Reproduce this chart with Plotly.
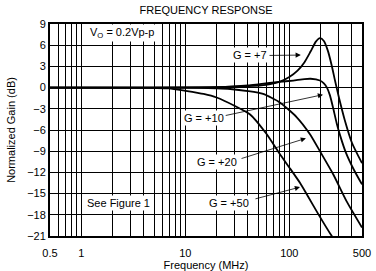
import math
import plotly.graph_objects as go

# ---- data ----
freq_g7 = [0.5, 5, 20, 40, 60, 80, 100, 120, 140, 160, 180, 197, 215, 235, 255, 275, 300, 340, 400, 500]
gain_g7 = [0, 0, 0.05, 0.2, 0.4, 0.8, 1.5, 2.4, 3.6, 5.1, 6.5, 7.0, 6.6, 5.2, 3.2, 1.0, -1.4, -4.5, -7.8, -10.7]

freq_g10 = [0.5, 10, 20, 40, 52, 80, 109, 140, 160, 197, 215, 230, 246, 265, 285, 310, 350, 420, 500]
gain_g10 = [0, 0, 0.05, 0.3, 0.5, 0.8, 1.0, 1.2, 1.25, 1.0, 0.6, 0.0, -1.1, -3.0, -5.0, -6.9, -9.2, -11.7, -13.7]

freq_g20 = [0.5, 10, 20, 27, 40, 56, 81, 118, 158, 197, 265, 356, 500]
gain_g20 = [0, 0, -0.1, -0.2, -0.5, -0.9, -2.1, -4.2, -6.6, -9.0, -12.3, -16.1, -19.8]

freq_g50 = [0.5, 5, 7, 10, 15, 20, 30, 42, 60, 81, 100, 127, 150, 190, 256, 280]
gain_g50 = [0, -0.05, -0.1, -0.45, -0.9, -1.4, -2.6, -3.8, -6.5, -9.4, -11.3, -13.5, -15.3, -17.9, -21.0, -21.8]

xtick_vals = [0.5, 1, 10, 100, 500]
xtick_text = ["0.5", "1", "10", "100", "500"]
xgrid_minor = [0.6, 0.7, 0.8, 0.9, 2, 3, 4, 5, 6, 7, 8, 9, 20, 30, 40, 50, 60, 70, 80, 90, 200, 300, 400]
ytick_vals = [9, 6, 3, 0, -3, -6, -9, -12, -15, -18, -21]
ytick_text = ["9", "6", "3", "0", "\u22123", "\u22126", "\u22129", "\u221212", "\u221215", "\u221218", "\u221221"]

FONT = "Liberation Sans, Arial, sans-serif"

fig = go.Figure()
for fx, gy in [(freq_g7, gain_g7), (freq_g10, gain_g10), (freq_g20, gain_g20), (freq_g50, gain_g50)]:
    fig.add_trace(go.Scatter(x=fx, y=gy, mode="lines",
                             line=dict(color="black", width=1.8, shape="spline", smoothing=0.6),
                             showlegend=False, hoverinfo="skip"))

L = math.log10

def lab(text, fx, gy):
    fig.add_annotation(x=L(fx), y=gy, xref="x", yref="y", text=text, showarrow=False,
                       font=dict(family=FONT, size=11, color="black"),
                       bgcolor="white", borderpad=1)

def arrow(f0, g0, f1, g1):
    fig.add_annotation(x=L(f1), y=g1, ax=L(f0), ay=g0, xref="x", yref="y", axref="x", ayref="y",
                       text=" ", showarrow=True, arrowhead=2, arrowsize=1.3, arrowwidth=0.8,
                       arrowcolor="black", font=dict(size=1))

lab("V<sub>O</sub> = 0.2Vp-p", 2.46, 7.7)
lab("See Figure 1", 2.30, -16.4)
arrow(62.4, 4.55, 129.0, 4.6)
lab("G = +7", 41.9, 4.55)
arrow(23.5, -4.0, 211.0, -1.0)
lab("G = +10", 15.0, -4.34)
arrow(33.6, -10.1, 144.5, -7.18)
lab("G = +20", 20.2, -10.5)
arrow(45.7, -15.8, 126.8, -14.08)
lab("G = +50", 26.3, -16.3)

fig.update_layout(
    width=376, height=271,
    margin=dict(l=50, r=14, t=24, b=35),
    paper_bgcolor="white", plot_bgcolor="white",
    font=dict(family=FONT, size=11, color="black"),
    title=dict(text="FREQUENCY RESPONSE", x=0.548, xanchor="center", y=0.962, yanchor="middle",
               font=dict(family=FONT, size=11, color="black")),
    xaxis=dict(type="log", range=[L(0.5), L(500)], tickmode="array",
               tickvals=xtick_vals, ticktext=xtick_text,
               showgrid=True, gridcolor="black", gridwidth=1, ticks="", ticklabelstandoff=6,
               automargin=False, ticklabeloverflow="allow",
               minor=dict(tickmode="array", tickvals=xgrid_minor, showgrid=True,
                          gridcolor="black", gridwidth=1, ticks=""),
               showline=True, linecolor="black", linewidth=2, mirror=True, zeroline=False,
               title=dict(text="Frequency (MHz)", standoff=3, font=dict(family=FONT, size=11)),
               tickfont=dict(family=FONT, size=11)),
    yaxis=dict(range=[-21, 9], tickmode="array", tickvals=ytick_vals, ticktext=ytick_text,
               showgrid=True, gridcolor="black", gridwidth=1, ticks="", automargin=False,
               showline=True, linecolor="black", linewidth=2, mirror=True, zeroline=False,
               title=dict(text="Normalized Gain (dB)", standoff=9, font=dict(family=FONT, size=11)),
               tickfont=dict(family=FONT, size=11)),
)

fig.write_html("out.html")
